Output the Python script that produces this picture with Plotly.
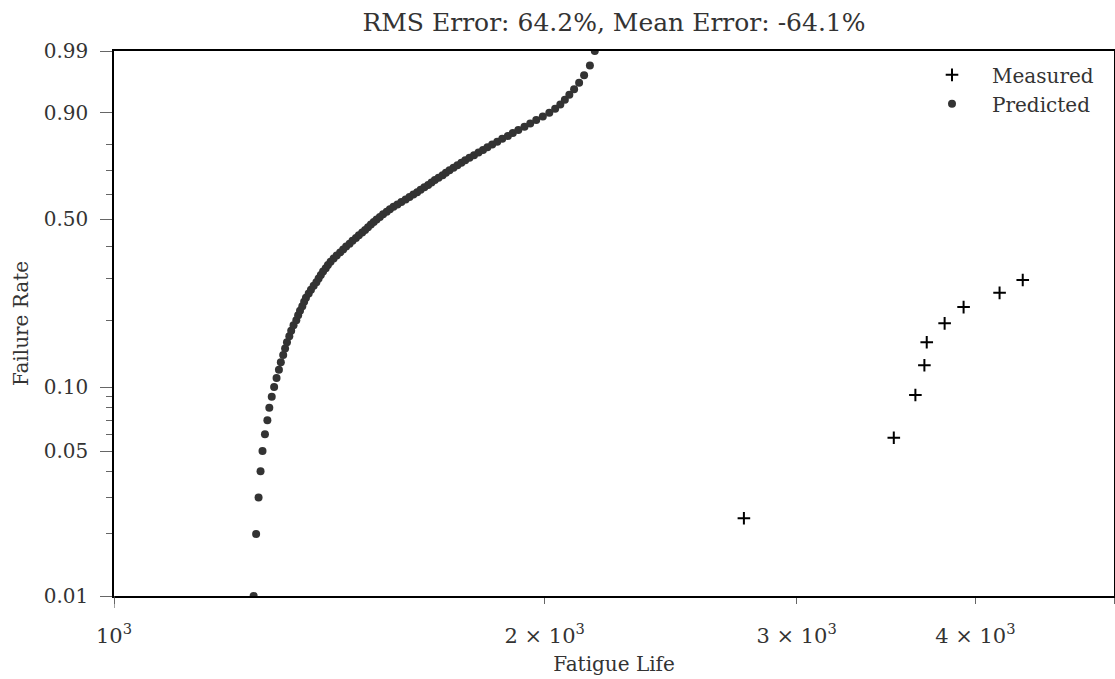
import numpy as np
import plotly.graph_objects as go

# ---------------- data ----------------
p_pred = [0.01, 0.02, 0.03, 0.04, 0.05, 0.06, 0.07, 0.08, 0.09, 0.10,
          0.11, 0.12, 0.13, 0.14, 0.15, 0.16, 0.17, 0.18, 0.19, 0.20,
          0.21, 0.22, 0.23, 0.24, 0.25, 0.26, 0.27, 0.28, 0.29, 0.30,
          0.31, 0.32, 0.33, 0.34, 0.35, 0.36, 0.37, 0.38, 0.39, 0.40,
          0.41, 0.42, 0.43, 0.44, 0.45, 0.46, 0.47, 0.48, 0.49, 0.50,
          0.51, 0.52, 0.53, 0.54, 0.55, 0.56, 0.57, 0.58, 0.59, 0.60,
          0.61, 0.62, 0.63, 0.64, 0.65, 0.66, 0.67, 0.68, 0.69, 0.70,
          0.71, 0.72, 0.73, 0.74, 0.75, 0.76, 0.77, 0.78, 0.79, 0.80,
          0.81, 0.82, 0.83, 0.84, 0.85, 0.86, 0.87, 0.88, 0.89, 0.90,
          0.91, 0.92, 0.93, 0.94, 0.95, 0.96, 0.97, 0.98, 0.99]
x_pred = [1252, 1257, 1262, 1266, 1270, 1275, 1280, 1284, 1289, 1294,
          1299, 1304, 1308, 1313, 1317, 1321, 1326, 1330, 1335, 1341,
          1345, 1349, 1354, 1358, 1362, 1368, 1373, 1379, 1385, 1390,
          1395, 1400, 1406, 1411, 1417, 1424, 1431, 1439, 1446, 1453,
          1461, 1468, 1476, 1483, 1491, 1498, 1505, 1512, 1519, 1526,
          1534, 1542, 1551, 1559, 1568, 1578, 1588, 1599, 1609, 1619,
          1629, 1638, 1648, 1658, 1667, 1676, 1686, 1697, 1706, 1716,
          1727, 1738, 1749, 1760, 1772, 1785, 1798, 1811, 1824, 1838,
          1853, 1868, 1885, 1900, 1917, 1936, 1954, 1973, 1994, 2015,
          2034, 2051, 2066, 2081, 2097, 2114, 2131, 2151, 2168]

x_meas = [2756, 3508, 3632, 3685, 3699, 3807, 3925, 4159, 4317]
p_meas = [0.0238, 0.0578, 0.0918, 0.1259, 0.1599, 0.1939, 0.2279, 0.2619, 0.2959]

y_tick_p = [0.01, 0.05, 0.10, 0.50, 0.90, 0.99]
y_tick_text = ["0.01", "0.05", "0.10", "0.50", "0.90", "0.99"]
y_minor_p = [0.02, 0.03, 0.04, 0.06, 0.07, 0.08, 0.09, 0.2, 0.3, 0.4, 0.6, 0.7, 0.8]

x_tick_vals = [1000, 2000, 3000, 4000, 5000]
x_tick_text = ["10<sup>3</sup>", "2 × 10<sup>3</sup>", "3 × 10<sup>3</sup>", "4 × 10<sup>3</sup>", ""]

title_text = "RMS Error: 64.2%, Mean Error: -64.1%"


def wb(p):
    """Weibull probability scale."""
    p = np.asarray(p, dtype=float)
    return np.log(-np.log(1.0 - p))


FONT = "DejaVu Serif"
TXT = "#333333"
TICKC = "#666666"

fig = go.Figure()
fig.add_trace(go.Scatter(
    x=x_meas, y=wb(p_meas), mode="markers", name="Measured",
    marker=dict(symbol="cross-thin", size=9, color="black",
                line=dict(width=2, color="black")),
))
fig.add_trace(go.Scatter(
    x=x_pred, y=wb(p_pred), mode="markers", name="Predicted",
    marker=dict(symbol="circle", size=8, color="#333333", line=dict(width=0)),
))

plot_h = 679 - 51 - 83

fig.update_layout(
    width=1115, height=679,
    margin=dict(l=114, r=1, t=51, b=83, autoexpand=False),
    paper_bgcolor="white", plot_bgcolor="white",
    font=dict(family=FONT, color=TXT, size=20),
    title=dict(text=title_text, x=0.5, xref="paper", xanchor="center",
               y=1 - 22 / 679, yref="container", yanchor="middle",
               font=dict(family=FONT, size=25, color=TXT)),
    showlegend=True,
    legend=dict(x=0.985, y=0.992, xanchor="right", yanchor="top",
                bgcolor="rgba(0,0,0,0)", borderwidth=0, itemwidth=70,
                font=dict(family=FONT, size=20, color=TXT)),
    xaxis=dict(
        type="log", range=[3, np.log10(5000)],
        tickmode="array", tickvals=x_tick_vals, ticktext=x_tick_text,
        ticks="outside", ticklen=6, tickwidth=1.2, tickcolor=TICKC,
        ticklabelstandoff=14,
        tickfont=dict(family=FONT, size=21, color=TXT),
        showline=True, linecolor="black", linewidth=1.5, mirror=True,
        showgrid=False, zeroline=False, automargin=False,
        title=dict(text="Fatigue Life", font=dict(family=FONT, size=20, color=TXT), standoff=10),
    ),
    yaxis=dict(
        range=[float(wb(0.01)), float(wb(0.99))],
        tickmode="array", tickvals=wb(y_tick_p), ticktext=y_tick_text,
        ticks="outside", ticklen=12, tickwidth=1.2, tickcolor=TICKC,
        ticklabelstandoff=8,
        tickfont=dict(family=FONT, size=20, color=TXT),
        minor=dict(tickmode="array", tickvals=wb(y_minor_p), ticks="outside",
                   ticklen=6, tickwidth=1.2, tickcolor=TICKC, showgrid=False),
        showline=True, linecolor="black", linewidth=1.5, mirror=True,
        showgrid=False, zeroline=False, automargin=False,
        title=dict(text="Failure Rate", font=dict(family=FONT, size=20, color=TXT), standoff=10),
    ),
    shapes=[dict(type="line", xref="x", yref="paper", x0=1000, x1=1000,
                 y0=0, y1=-12 / plot_h, line=dict(color=TICKC, width=1.2))],
)

fig.write_html("out.html")
